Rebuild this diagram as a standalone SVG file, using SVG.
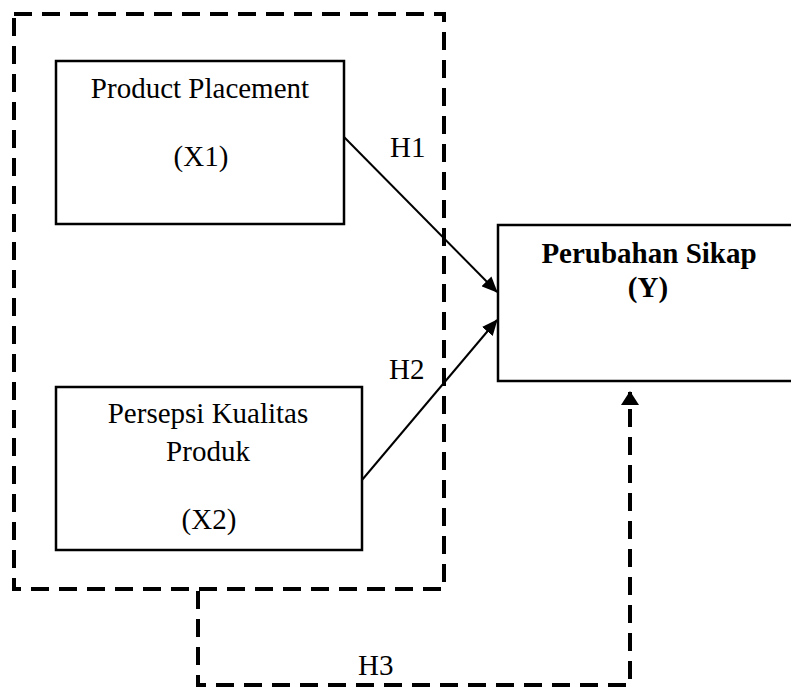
<svg xmlns="http://www.w3.org/2000/svg" width="791" height="687" viewBox="0 0 791 687">
<style>
.box{fill:none;stroke:#000;stroke-width:2.5}
.dash{fill:none;stroke:#000;stroke-width:4;stroke-dasharray:18 10}
.arrow{fill:none;stroke:#000;stroke-width:2}
text{font-family:"Liberation Serif","Times New Roman",serif;font-size:29px;fill:#000}
.c{text-anchor:middle}
.b{font-weight:bold}
</style>
<defs>
<marker id="ah" markerWidth="16" markerHeight="14" refX="15" refY="7" orient="auto" markerUnits="userSpaceOnUse">
<path d="M0,0 L16,7 L0,14 Z" fill="#000"/>
</marker>
<marker id="ah2" markerWidth="14" markerHeight="18" refX="13" refY="9" orient="auto" markerUnits="userSpaceOnUse">
<path d="M0,0 L14,9 L0,18 Z" fill="#000"/>
</marker>
</defs>
<rect width="791" height="687" fill="#fff"/>
<g id="group-x">
<rect class="dash" x="14" y="14" width="430" height="575"/>
</g>
<g id="x1">
<rect class="box" x="56" y="61" width="288" height="163"/>
<text class="c" x="200" y="98">Product Placement</text>
<text class="c" x="201" y="166">(X1)</text>
</g>
<g id="x2">
<rect class="box" x="56" y="387" width="306" height="163"/>
<text class="c" x="208" y="423">Persepsi Kualitas</text>
<text class="c" x="208" y="461">Produk</text>
<text class="c" x="209" y="529">(X2)</text>
</g>
<g id="y">
<rect class="box" x="498" y="225" width="300" height="156"/>
<text class="c b" x="649" y="263">Perubahan Sikap</text>
<text class="c b" x="648" y="297">(Y)</text>
</g>
<g id="connectors">
<line class="arrow" x1="344" y1="137" x2="497" y2="292" marker-end="url(#ah)"/>
<line class="arrow" x1="362" y1="480" x2="497" y2="320" marker-end="url(#ah)"/>
<path class="dash" d="M198,591 V685 H630 V392" marker-end="url(#ah2)"/>
<text x="390" y="157">H1</text>
<text x="389" y="379">H2</text>
<text x="358" y="675">H3</text>
</g>
</svg>
